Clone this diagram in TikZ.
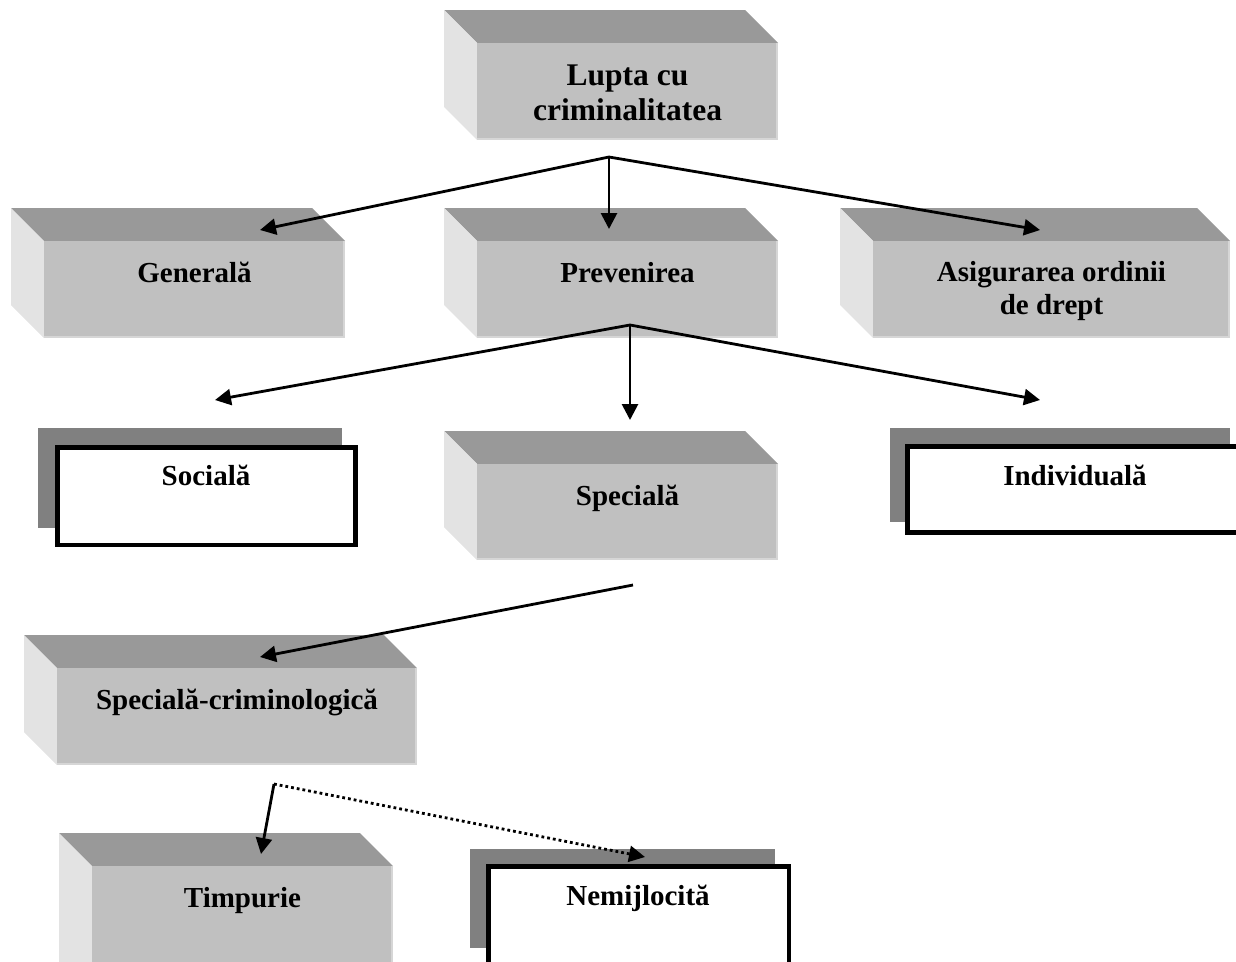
\documentclass[tikz,border=0pt]{standalone}
\usepackage{fontspec}
\setmainfont{Liberation Serif}
\usetikzlibrary{arrows.meta,fit,calc}

\definecolor{cubetop}{HTML}{999999}
\definecolor{cubefront}{HTML}{C0C0C0}
\definecolor{cubeside}{HTML}{E3E3E3}
\definecolor{cubeedge}{HTML}{D6D6D6}
\definecolor{shadowgrey}{HTML}{808080}

\tikzset{
  boxtext/.style={font=\fontsize{29}{33}\selectfont\bfseries, anchor=base,
    align=center, inner sep=0pt},
  bigtext/.style={font=\fontsize{31.5}{35}\selectfont\bfseries},
  frontface/.style={inner sep=0pt, outer sep=0pt, fill=cubefront},
  whiteface/.style={inner sep=0pt, outer sep=0pt, fill=white, draw=black, line width=4.5pt},
  link/.style={line width=2.8pt, -{Triangle[length=16pt,width=16pt]}},
  dotlink/.style={link, dash pattern=on 2.8pt off 3pt},
}

% 3D block: name, front face x1, y1, x2, y2
\newcommand\cuboid[5]{%
  \fill[cubetop] ({#2-33},{#3-33}) -- ({#4-33},{#3-33}) -- (#4,#3) -- (#2,#3) -- cycle;
  \fill[cubeside] ({#2-33},{#3-33}) -- (#2,#3) -- (#2,#5) -- ({#2-33},{#5-33}) -- cycle;
  \node[frontface, fit={(#2,#3) (#4,#5)}] (#1) {};
  \draw[cubeedge, line width=2pt] (#2,{#5-1}) -- ({#4-1},{#5-1}) -- ({#4-1},#3);
}

\begin{document}
\begin{tikzpicture}[x=1pt, y=-1pt]
\useasboundingbox (0,0) rectangle (1236,961);
\clip (0,0) rectangle (1236,961);

% ---- 3D blocks (two-line labels are placed by their last baseline) ----
\cuboid{lupta}{477}{43}{778}{140}
\node[boxtext, bigtext] (lupta-text) at ($(lupta.north)+(0,77)$) {Lupta cu\\criminalitatea};

\cuboid{gen}{44}{241}{345}{338}
\node[boxtext] (gen-text) at ($(gen.north)+(0,41)$) {Generală};

\cuboid{prev}{477}{241}{778}{338}
\node[boxtext] (prev-text) at ($(prev.north)+(0,41)$) {Prevenirea};

\cuboid{asig}{873}{241}{1230}{338}
\node[boxtext] (asig-text) at ($(asig.north)+(0,73)$) {Asigurarea ordinii\\de drept};

\cuboid{spec}{477}{464}{778}{560}
\node[boxtext] (spec-text) at ($(spec.north)+(0,41)$) {Specială};

\cuboid{crim}{57}{668}{417}{765}
\node[boxtext] (crim-text) at ($(crim.north)+(0,41)$) {Specială-criminologică};

\cuboid{timp}{92}{866}{393}{1000}
\node[boxtext] (timp-text) at ($(timp.north)+(0,41)$) {Timpurie};

% ---- flat framed boxes with a grey offset backing ----
\fill[shadowgrey] (38,428) rectangle (342,528);
\node[whiteface, fit={(57.5,447.5) (355.5,545)}] (soc) {};
\node[boxtext] (soc-text) at (206,485) {Socială};

\fill[shadowgrey] (890,428) rectangle (1230,522);
\node[whiteface, fit={(907.5,446.5) (1243,532.5)}] (ind) {};
\node[boxtext] (ind-text) at (1075,485) {Individuală};

\fill[shadowgrey] (470,849) rectangle (775,948);
\node[whiteface, fit={(488.5,866.5) (789,1000)}] (nem) {};
\node[boxtext] (nem-text) at (638,905) {Nemijlocită};

% ---- connectors ----
\coordinate (j1) at (609,157);
\coordinate (j1a) at (260,230);
\coordinate (j1b) at (609,229);
\coordinate (j1c) at (1040,230);
\draw[link] (j1) -- (j1a);
\draw[link] (j1) -- (j1b);
\draw[link] (j1) -- (j1c);

\coordinate (j2) at (630,325);
\coordinate (j2a) at (215,400);
\coordinate (j2b) at (630,420);
\coordinate (j2c) at (1040,400);
\draw[link] (j2) -- (j2a);
\draw[link] (j2) -- (j2b);
\draw[link] (j2) -- (j2c);

\coordinate (j3) at (633,585);
\coordinate (j3a) at (260,657);
\draw[link] (j3) -- (j3a);

\coordinate (j4) at (274,784);
\coordinate (j4a) at (261,854);
\coordinate (j4b) at (645,857);
\draw[link] (j4) -- (j4a);
\draw[dotlink] (j4) -- (j4b);
\end{tikzpicture}
\end{document}
